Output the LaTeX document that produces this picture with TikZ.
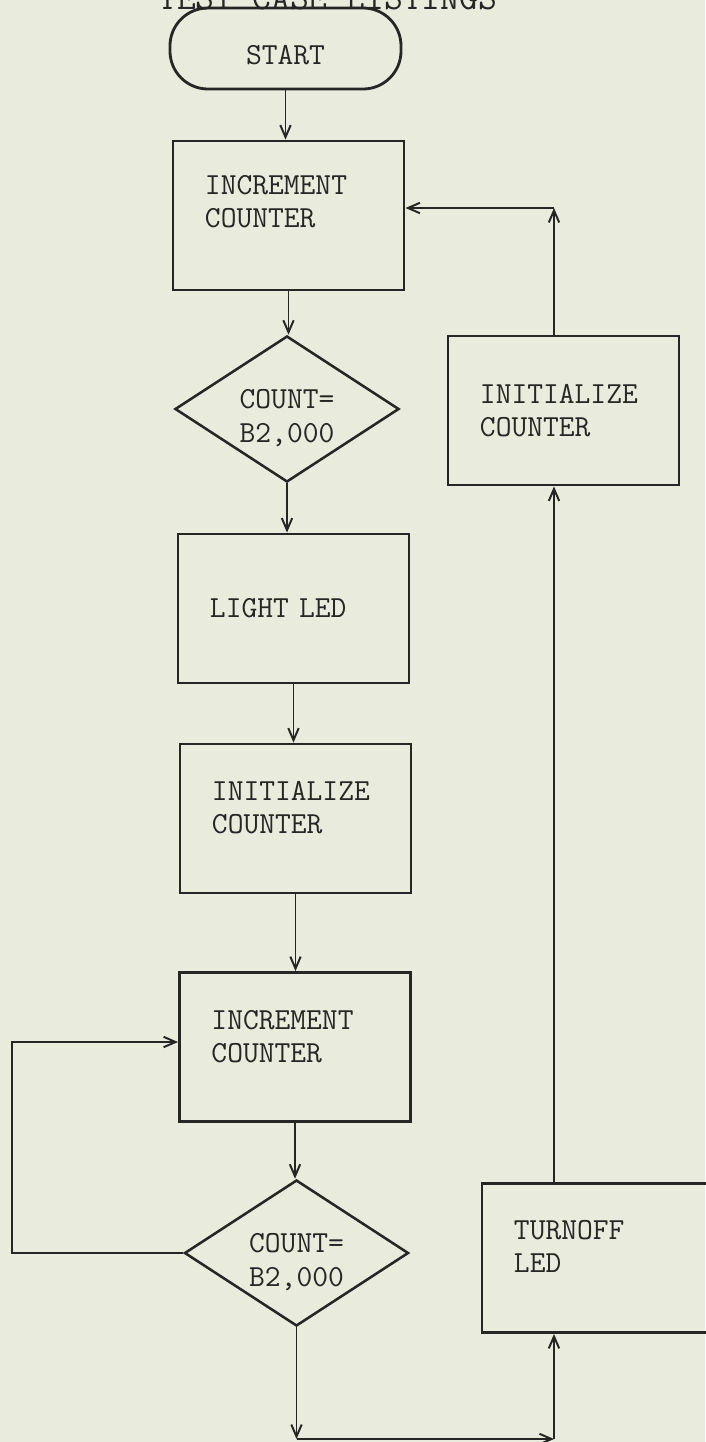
\documentclass[tikz,border=0pt]{standalone}
\usepackage{tikz}
\usetikzlibrary{arrows.meta,shapes.geometric}
\definecolor{paper}{RGB}{233,235,221}
\definecolor{ink}{RGB}{38,38,36}

\begin{document}
\begin{tikzpicture}[
  x=0.025cm, y=-0.025cm,
  font=\fontsize{21.8}{23.5}\ttfamily,
  block/.style={draw=ink,line width=2pt,text=ink,minimum width=5.775cm,minimum height=3.725cm,text width=4.175cm,inner xsep=0.8cm,align=left},
  terminal/.style={draw=ink,line width=2pt,text=ink,rounded corners=0.95cm,minimum width=5.775cm,minimum height=2.025cm},
  decision/.style={diamond,aspect=1.53,draw=ink,line width=1.8pt,text=ink,minimum width=5.6cm,minimum height=3.65cm,inner sep=0pt,align=left,text height=1.65cm,text depth=0pt},
  flow/.style={draw=ink,line width=1.4pt,-{Straight Barb[length=3mm,width=2.6mm]}}
]
\fill[paper] (0,0) rectangle (705,1442);
\useasboundingbox (0,0) rectangle (705,1442);
\node[anchor=base west,inner sep=0pt,text=ink,font=\fontsize{26}{28}\ttfamily] (title) at (158,9) {TEST CASE LISTINGS};
\node[terminal,text height=0.82cm,text depth=0pt] (start) at (285.5,48.5) {START};
\node[block,text depth=1.52cm] (inc1) at (288.5,215.5) {INCREMENT\\COUNTER};
\node[decision] (dec1) at (287,409) {COUNT=\\B2,000};
\node[block] (led) at (293.5,608.5) {LIGHT LED};
\node[block,text depth=1.37cm] (init1) at (295.5,818.5) {INITIALIZE\\COUNTER};
\node[block,text depth=1.37cm] (inc2) at (295,1047) {INCREMENT\\COUNTER};
\node[decision] (dec2) at (296.5,1253) {COUNT=\\B2,000};
\node[block] (initR) at (563.5,410.5) {INITIALIZE\\COUNTER};
\node[block,text depth=1.42cm] (off) at (597.5,1258) {TURNOFF\\LED};
\coordinate (rtop) at (554,208);
\coordinate (rbot) at (554,1439);
\coordinate (lloop) at (12,1042);
\draw[flow] (start) -- (start |- inc1.north);
\draw[flow] (inc1) -- (inc1 |- dec1.north);
\draw[flow] (dec1) -- (dec1 |- led.north);
\draw[flow] (led) -- (led |- init1.north);
\draw[flow] (init1) -- (init1 |- inc2.north);
\draw[flow] (inc2) -- (inc2 |- dec2.north);
\draw[flow] (dec2.west) -| (lloop) -- (inc2.west |- lloop);
\draw[flow] (dec2) -- (dec2 |- rbot);
\draw[flow] (dec2 |- rbot) -- (rbot);
\draw[flow] (rbot) -- (rbot |- off.south);
\draw[flow] (off.north -| rbot) -- (initR.south -| rbot);
\draw[flow] (initR.north -| rbot) -- (rtop);
\draw[flow] (rtop) -- (inc1.east |- rtop);
\end{tikzpicture}
\end{document}
